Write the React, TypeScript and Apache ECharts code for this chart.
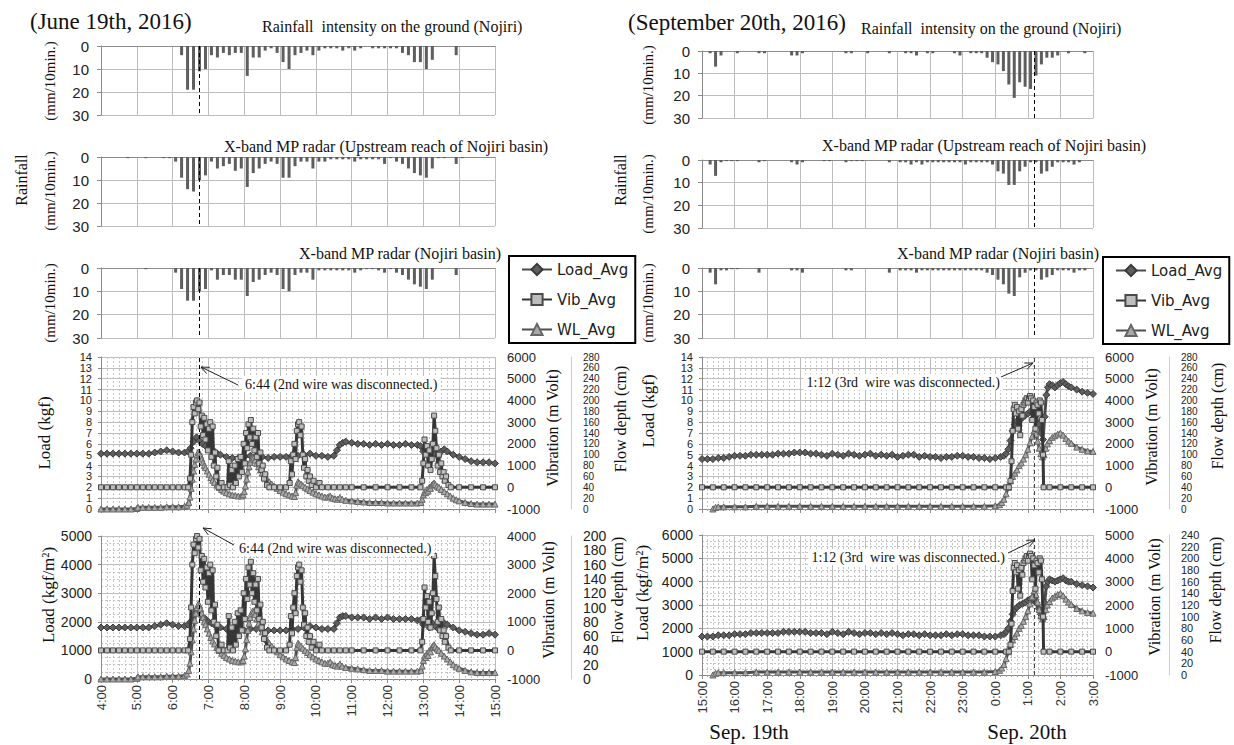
import React, { useEffect, useRef } from "react";
import * as echarts from "echarts";

// ---------- tick labels ----------
const LEFT_HOURS = ["4:00", "5:00", "6:00", "7:00", "8:00", "9:00", "10:00", "11:00", "12:00", "13:00", "14:00", "15:00"];
const RIGHT_HOURS = ["15:00", "16:00", "17:00", "18:00", "19:00", "20:00", "21:00", "22:00", "23:00", "0:00", "1:00", "2:00", "3:00"];
const LEFT_EVENT_MIN = 164; // 6:44
const RIGHT_EVENT_MIN = 612; // 1:12 (next day)

// ---------- rainfall, mm/10min, one value per 10 minutes ----------
// June 19th, 4:00-15:00 (66 slots)
const L_RAIN_GROUND = [0, 0, 0, 0, 0, 0, 0, 0, 0, 0, 0, 0, 0, 4, 19, 19, 11, 10, 4, 5, 3, 4, 3, 3, 13, 5, 5, 2, 1, 3, 7, 10, 4, 3, 2, 4, 2, 1, 1, 1, 2, 1, 2, 1, 0, 1, 1, 1, 1, 1, 3, 4, 7, 7, 10, 6, 0, 0, 0, 4, 0, 0, 0, 0, 0, 0];
const L_RAIN_UPSTREAM = [0, 0, 0, 0, 0.5, 0, 0, 0.5, 0, 0, 0.5, 0.5, 2, 9, 14, 15, 10, 8, 2, 5, 4, 3, 6, 5, 13, 7, 5, 3, 2, 3, 9, 9, 4, 2, 2, 5, 2, 2, 1, 1, 1, 1, 2, 1, 1, 1, 1, 3, 0.5, 2, 3, 5, 7, 8, 9, 5, 0.5, 0.5, 0, 3, 0.5, 0, 0, 0, 0, 0];
const L_RAIN_NOJIRI = [0, 0, 0, 0, 0, 0, 0, 0.5, 0, 0, 0, 0, 2, 9, 14, 14, 10, 9, 1, 5, 3, 3, 5, 5, 12, 6, 5, 3, 2, 3, 9, 10, 3, 2, 2, 5, 1, 1, 1, 1, 1, 1, 2, 1, 0.5, 0.5, 1, 2, 0.5, 2, 3, 5, 7, 8, 9, 5, 0, 0, 0, 3, 0, 0, 0, 0, 0, 0];
// Sep 19th 15:00 - Sep 20th 3:00 (72 slots)
const R_RAIN_GROUND = [0, 1, 7, 2, 0, 0, 1, 0, 0, 0, 1, 1, 0, 0, 0, 0, 2, 2, 1, 0, 0, 0, 0, 0, 0, 0, 1, 1, 0, 0, 1, 0, 0, 0, 1, 0, 0, 1, 1, 2, 0, 1, 1, 0, 0, 0, 1, 2, 0, 1, 1, 1, 3, 5, 6, 9, 15, 21, 14, 16, 17, 11, 6, 3, 3, 2, 0, 1, 0, 0, 1, 0];
const R_RAIN_UPSTREAM = [0, 2, 7, 1, 0.5, 0.5, 0.5, 0, 0, 0, 1, 0.5, 0, 0, 0, 0, 1, 2, 1, 0, 0, 0, 0.5, 0.5, 0, 0, 1, 0.5, 0.5, 0.5, 0, 0, 0, 0, 1, 0, 1, 1, 2, 1, 2, 1, 1, 1, 1, 1, 1, 1, 2, 1, 1, 1, 1, 2, 5, 6, 11, 11, 5, 3, 1, 1, 6, 5, 3, 1, 1, 1, 2, 1, 0, 0];
const R_RAIN_NOJIRI = [0, 2, 7, 1, 1, 0.5, 0.5, 0, 0, 0, 2, 0, 0, 0, 0, 0, 1, 1, 2, 0, 0, 0, 0, 0, 0, 0, 1, 1, 0, 0, 0, 0, 0, 0, 2, 0, 1, 1, 1, 2, 1, 1, 1, 1, 1, 1, 1, 1, 1, 1, 1, 1, 2, 3, 5, 7, 11, 12, 4, 2, 1, 1, 5, 4, 3, 1, 1, 1, 2, 1, 1, 0];

// ---------- sensor records [minutes from start, value] ----------
// June 19th (0 = 4:00)
const L_LOAD_KGF = [[0, 5.1], [10, 5.1], [20, 5.1], [30, 5.1], [40, 5.1], [50, 5.1], [60, 5.1], [70, 5.1], [80, 5.1], [90, 5.2], [100, 5.3], [110, 5.4], [120, 5.3], [130, 5.2], [140, 5.2], [146, 5.3], [150, 5.6], [155, 6.2], [160, 6.6], [165, 6.3], [170, 6.0], [175, 5.8], [180, 5.6], [185, 5.4], [190, 5.3], [195, 5.1], [200, 5.0], [210, 4.8], [220, 4.7], [230, 4.7], [240, 4.8], [250, 4.9], [260, 4.9], [270, 4.8], [280, 4.7], [290, 4.8], [300, 4.8], [310, 4.8], [320, 4.9], [330, 4.9], [340, 5.0], [350, 5.1], [360, 4.9], [370, 4.9], [380, 4.8], [390, 4.9], [395, 5.4], [400, 5.9], [405, 6.1], [410, 6.2], [420, 6.1], [430, 6.0], [440, 6.0], [450, 5.9], [460, 6.0], [470, 5.9], [480, 6.0], [490, 5.9], [500, 5.9], [510, 6.0], [520, 5.9], [530, 5.9], [535, 5.8], [540, 5.3], [545, 5.6], [550, 5.0], [555, 5.4], [560, 5.1], [565, 4.9], [570, 5.3], [575, 5.5], [580, 5.3], [590, 5.0], [600, 4.8], [610, 4.6], [620, 4.4], [630, 4.3], [640, 4.3], [650, 4.3], [660, 4.2]];
const L_LOAD_M2 = [[0, 1800], [10, 1800], [20, 1800], [30, 1800], [40, 1800], [50, 1800], [60, 1800], [70, 1800], [80, 1800], [90, 1850], [100, 1900], [110, 1950], [120, 1900], [130, 1850], [140, 1850], [146, 1900], [150, 2000], [155, 2250], [160, 2400], [165, 2300], [170, 2150], [175, 2100], [180, 2000], [185, 1950], [190, 1900], [195, 1850], [200, 1800], [210, 1750], [220, 1700], [230, 1700], [240, 1700], [250, 1750], [260, 1750], [270, 1700], [280, 1700], [290, 1700], [300, 1700], [310, 1700], [320, 1750], [330, 1750], [340, 1800], [350, 1850], [360, 1800], [370, 1750], [380, 1750], [390, 1750], [395, 1950], [400, 2150], [405, 2200], [410, 2200], [420, 2150], [430, 2150], [440, 2150], [450, 2100], [460, 2150], [470, 2100], [480, 2150], [490, 2100], [500, 2100], [510, 2100], [520, 2100], [530, 2050], [535, 2050], [540, 1900], [545, 2000], [550, 1800], [555, 1950], [560, 1850], [565, 1750], [570, 1900], [575, 1950], [580, 1900], [590, 1800], [600, 1700], [610, 1650], [620, 1600], [630, 1550], [640, 1550], [650, 1600], [660, 1550]];
const L_VIB = [[0, 0], [10, 0], [20, 0], [30, 0], [40, 0], [50, 0], [60, 0], [70, 0], [80, 0], [90, 0], [100, 0], [110, 0], [120, 0], [130, 0], [140, 0], [146, 0], [149, 400], [151, 1500], [153, 3000], [155, 3700], [157, 3400], [159, 3900], [161, 4000], [163, 3600], [165, 3900], [167, 2800], [169, 3300], [171, 2400], [173, 3200], [175, 2200], [177, 2900], [179, 1700], [181, 2700], [183, 3000], [185, 1400], [187, 2800], [189, 1000], [191, 1600], [193, 500], [195, 900], [197, 0], [202, 200], [206, 0], [212, 0], [214, 1200], [216, 100], [219, 800], [221, 0], [224, 1000], [226, 200], [229, 1300], [231, 500], [234, 1400], [236, 700], [239, 2000], [241, 1100], [243, 2500], [245, 1800], [247, 2900], [249, 2300], [251, 3100], [253, 2000], [255, 2700], [257, 1700], [259, 2300], [261, 1400], [263, 2500], [265, 1100], [267, 1600], [269, 800], [271, 1000], [273, 400], [275, 600], [278, 100], [282, 0], [290, 0], [300, 0], [310, 0], [316, 200], [318, 1200], [320, 600], [322, 1500], [324, 2000], [326, 1300], [328, 2600], [330, 2900], [332, 3000], [334, 2400], [336, 2800], [338, 1500], [340, 900], [342, 1300], [344, 500], [346, 800], [348, 300], [350, 500], [353, 100], [356, 300], [360, 0], [366, 200], [370, 0], [380, 0], [390, 0], [400, 0], [410, 0], [420, 0], [440, 0], [460, 0], [480, 0], [500, 0], [520, 0], [535, 0], [538, 300], [540, 1100], [542, 2200], [544, 1500], [546, 1900], [548, 1000], [550, 1700], [552, 800], [554, 1300], [556, 2000], [558, 3300], [560, 2600], [562, 1800], [564, 1000], [566, 1500], [568, 700], [570, 1100], [572, 500], [574, 700], [576, 300], [578, 500], [582, 100], [586, 0], [600, 0], [620, 0], [640, 0], [660, 0]];
const L_WL = [[0, 0], [10, 0], [20, 0], [30, 0], [40, 0], [50, 0], [60, 1], [62, 3], [70, 3], [80, 3], [90, 3], [100, 3], [110, 4], [120, 4], [130, 4], [140, 5], [144, 7], [147, 12], [149, 22], [151, 38], [153, 55], [155, 70], [157, 82], [159, 92], [161, 100], [163, 105], [165, 103], [167, 98], [169, 92], [171, 86], [173, 80], [175, 76], [178, 70], [181, 64], [184, 58], [187, 53], [190, 49], [194, 44], [198, 40], [202, 36], [206, 33], [210, 30], [215, 28], [220, 26], [225, 25], [230, 24], [235, 24], [238, 26], [240, 32], [242, 42], [244, 55], [246, 68], [248, 78], [250, 86], [252, 92], [254, 95], [256, 94], [258, 90], [261, 84], [264, 78], [267, 72], [270, 66], [274, 60], [278, 55], [282, 50], [286, 46], [290, 42], [295, 38], [300, 34], [305, 31], [310, 28], [315, 26], [320, 24], [324, 23], [326, 30], [328, 44], [330, 50], [332, 48], [335, 46], [338, 43], [342, 40], [346, 37], [350, 34], [355, 31], [360, 28], [365, 26], [370, 24], [375, 22], [380, 22], [384, 24], [388, 20], [392, 19], [396, 18], [400, 21], [404, 18], [410, 16], [420, 15], [430, 14], [440, 13], [450, 12], [460, 12], [470, 12], [480, 11], [490, 11], [500, 11], [510, 11], [520, 11], [530, 11], [536, 12], [538, 18], [540, 26], [542, 32], [544, 30], [546, 36], [548, 33], [550, 40], [552, 38], [554, 44], [556, 46], [558, 48], [560, 45], [563, 42], [566, 40], [570, 36], [575, 32], [580, 28], [585, 24], [590, 20], [595, 17], [600, 15], [610, 12], [620, 10], [630, 9], [640, 9], [650, 9], [660, 9]];

// Sep 19th-20th (0 = 15:00)
const R_LOAD_KGF = [[0, 4.6], [10, 4.6], [20, 4.6], [30, 4.7], [40, 4.7], [50, 4.8], [60, 4.9], [70, 4.9], [80, 4.9], [90, 5.0], [100, 5.0], [110, 5.0], [120, 5.0], [130, 5.0], [140, 5.1], [150, 5.1], [160, 5.1], [170, 5.2], [180, 5.2], [190, 5.2], [200, 5.1], [210, 5.1], [220, 5.0], [230, 4.9], [240, 5.1], [250, 5.0], [260, 4.9], [270, 5.1], [280, 5.0], [290, 4.9], [300, 5.0], [310, 5.1], [320, 4.9], [330, 5.0], [340, 4.9], [350, 5.0], [360, 4.8], [370, 4.9], [380, 5.0], [390, 5.0], [400, 4.8], [410, 4.9], [420, 4.8], [430, 4.8], [440, 4.7], [450, 4.8], [460, 4.8], [470, 4.9], [480, 4.9], [490, 4.8], [500, 4.8], [510, 4.7], [520, 4.7], [530, 4.6], [540, 4.7], [550, 4.8], [556, 4.9], [560, 5.1], [564, 5.5], [568, 6.3], [572, 7.2], [576, 7.8], [580, 8.1], [585, 8.3], [590, 8.4], [595, 8.6], [600, 8.8], [605, 9.0], [610, 8.9], [615, 8.6], [620, 7.8], [624, 7.0], [628, 6.4], [631, 8.5], [634, 10.5], [637, 11.2], [640, 11.5], [645, 11.4], [650, 11.2], [655, 11.4], [660, 11.6], [665, 11.7], [670, 11.5], [675, 11.3], [680, 11.2], [690, 11.0], [700, 10.8], [710, 10.7], [720, 10.6]];
const R_LOAD_M2 = [[0, 1650], [10, 1650], [20, 1650], [30, 1700], [40, 1700], [50, 1700], [60, 1750], [70, 1750], [80, 1750], [90, 1800], [100, 1800], [110, 1800], [120, 1800], [130, 1800], [140, 1800], [150, 1850], [160, 1850], [170, 1850], [180, 1850], [190, 1850], [200, 1800], [210, 1800], [220, 1800], [230, 1750], [240, 1850], [250, 1800], [260, 1750], [270, 1850], [280, 1800], [290, 1750], [300, 1800], [310, 1800], [320, 1750], [330, 1800], [340, 1750], [350, 1800], [360, 1750], [370, 1700], [380, 1750], [390, 1750], [400, 1700], [410, 1750], [420, 1700], [430, 1700], [440, 1700], [450, 1750], [460, 1700], [470, 1750], [480, 1750], [490, 1700], [500, 1700], [510, 1700], [520, 1650], [530, 1650], [540, 1650], [550, 1700], [556, 1750], [560, 1850], [564, 2000], [568, 2300], [572, 2600], [576, 2800], [580, 2900], [585, 3000], [590, 3050], [595, 3100], [600, 3200], [605, 3250], [610, 3200], [615, 3100], [620, 2850], [624, 2600], [628, 2400], [631, 3100], [634, 3800], [637, 4000], [640, 4100], [645, 4050], [650, 4000], [655, 4050], [660, 4100], [665, 4150], [670, 4050], [675, 4000], [680, 4000], [690, 3900], [700, 3850], [710, 3800], [720, 3750]];
const R_VIB = [[0, 0], [20, 0], [40, 0], [60, 0], [80, 0], [100, 0], [120, 0], [140, 0], [160, 0], [180, 0], [200, 0], [220, 0], [240, 0], [260, 0], [280, 0], [300, 0], [320, 0], [340, 0], [360, 0], [380, 0], [400, 0], [420, 0], [440, 0], [460, 0], [480, 0], [500, 0], [520, 0], [540, 0], [560, 0], [565, 0], [568, 300], [570, 1200], [572, 2600], [574, 3600], [576, 3800], [578, 3400], [580, 3700], [582, 2700], [584, 3500], [586, 2400], [588, 3600], [590, 3300], [592, 3800], [594, 3900], [596, 4000], [598, 4100], [600, 3900], [602, 4100], [604, 4200], [606, 4100], [608, 3100], [610, 4000], [612, 3700], [614, 2700], [616, 3900], [618, 3800], [620, 3400], [622, 4000], [624, 3900], [626, 3100], [628, 1500], [629, 0], [640, 0], [660, 0], [680, 0], [700, 0], [720, 0]];
const R_WL = [[20, 0], [25, 3], [30, 4], [40, 4], [60, 4], [80, 4], [100, 5], [120, 5], [140, 5], [160, 5], [180, 5], [200, 5], [220, 5], [240, 5], [260, 5], [280, 5], [300, 5], [320, 5], [340, 5], [360, 5], [380, 5], [400, 5], [420, 5], [440, 5], [460, 5], [480, 5], [500, 5], [520, 5], [540, 6], [548, 8], [552, 12], [556, 18], [560, 28], [564, 40], [568, 52], [572, 60], [576, 66], [580, 72], [584, 80], [588, 85], [592, 92], [596, 100], [600, 110], [604, 122], [608, 134], [612, 145], [615, 138], [618, 125], [621, 112], [624, 102], [627, 96], [630, 100], [633, 112], [636, 120], [640, 126], [645, 132], [650, 135], [655, 138], [660, 140], [665, 136], [670, 130], [675, 125], [680, 121], [690, 114], [700, 110], [710, 107], [720, 106]];

const SERIES_NAMES = ["Load_Avg", "Vib_Avg", "WL_Avg"];

// ---------- styling ----------
const SANS = "'Liberation Sans', Arial, sans-serif";
const SERIF = "'Liberation Serif', 'Times New Roman', serif";
const GRID_LINE = "#bdbdbd";
const plain = (v: number) => String(v);

const GRIDS = [
  { left: 101, top: 46, width: 394, height: 69 }, // 0 L1
  { left: 101, top: 157, width: 394, height: 69 }, // 1 L2
  { left: 101, top: 268, width: 394, height: 70 }, // 2 L3
  { left: 101, top: 357, width: 394, height: 152 }, // 3 L4
  { left: 101, top: 536, width: 394, height: 143 }, // 4 L5
  { left: 702, top: 51, width: 391, height: 67 }, // 5 R1
  { left: 702, top: 160, width: 391, height: 68 }, // 6 R2
  { left: 702, top: 268, width: 391, height: 70 }, // 7 R3
  { left: 702, top: 357, width: 391, height: 152 }, // 8 R4
  { left: 702, top: 535, width: 391, height: 140 }, // 9 R5
];

function dashLine(m: number, color = "#000") {
  return {
    silent: true,
    symbol: ["none", "none"],
    label: { show: false },
    lineStyle: { type: [4, 3], color, width: 1 },
    data: [{ xAxis: m }],
  };
}

function txt(x: number, y: number, text: string, size: number, opts: any = {}) {
  return {
    type: "text",
    x,
    y,
    rotation: opts.rot || 0,
    z: 100,
    style: {
      text,
      fill: "#111",
      font: `${size}px ${opts.family || SERIF}`,
      textAlign: opts.align || "center",
      textVerticalAlign: "middle",
      backgroundColor: opts.bg,
      padding: opts.bg ? [1, 3] : undefined,
    },
  };
}

function arrow(x1: number, y1: number, x2: number, y2: number) {
  const dx = x2 - x1;
  const dy = y2 - y1;
  const len = Math.sqrt(dx * dx + dy * dy);
  const ux = dx / len;
  const uy = dy / len;
  const nx = -uy;
  const ny = ux;
  const hl = 8;
  const hw = 3.5;
  return [
    { type: "line", z: 101, shape: { x1, y1, x2, y2 }, style: { stroke: "#222", lineWidth: 1 } },
    {
      type: "polyline",
      z: 101,
      shape: {
        points: [
          [x2 - hl * ux + hw * nx, y2 - hl * uy + hw * ny],
          [x2, y2],
          [x2 - hl * ux - hw * nx, y2 - hl * uy - hw * ny],
        ],
      },
      style: { stroke: "#222", lineWidth: 1, fill: "none" },
    },
  ];
}

function buildOption() {
  const xAxis: any[] = [];
  const yAxis: any[] = [];
  const series: any[] = [];

  const rainPanel = (gi: number, vals: number[], max: number, ev: number) => {
    xAxis.push({
      gridIndex: gi,
      type: "value",
      min: 0,
      max,
      interval: 60,
      position: "top",
      axisLine: { show: true, onZero: false, lineStyle: { color: "#8c8c8c" } },
      axisTick: { show: false },
      axisLabel: { show: false },
      splitLine: { show: true, lineStyle: { color: GRID_LINE } },
    });
    const yi = yAxis.length;
    yAxis.push({
      gridIndex: gi,
      type: "value",
      min: 0,
      max: 30,
      interval: 10,
      inverse: true,
      axisLine: { show: true, lineStyle: { color: "#8c8c8c" } },
      axisTick: { show: true, length: 4, lineStyle: { color: "#8c8c8c" } },
      axisLabel: { fontSize: 15, fontFamily: SANS, color: "#222", margin: 12 },
      splitLine: { show: true, lineStyle: { color: GRID_LINE } },
    });
    series.push({
      type: "bar",
      xAxisIndex: gi,
      yAxisIndex: yi,
      silent: true,
      barWidth: 3,
      itemStyle: { color: "#5e5e5e" },
      data: vals.map((v, i) => [i * 10 + 5, v]),
      markLine: dashLine(ev),
    });
  };

  const tsPanel = (
    gi: number,
    max: number,
    hours: string[],
    showLabels: boolean,
    load: number[][],
    loadMax: number,
    loadInt: number,
    loadFont: number,
    loadMinor: boolean,
    vibMax: number,
    flowMax: number,
    flowFont: number,
    ev: number
  ) => {
    xAxis.push({
      gridIndex: gi,
      type: "value",
      min: 0,
      max,
      interval: 60,
      axisLine: { show: true, onZero: false, lineStyle: { color: "#8c8c8c" } },
      axisTick: { show: true, length: 4, lineStyle: { color: "#8c8c8c" } },
      minorTick: { show: true, splitNumber: 6, length: 2, lineStyle: { color: "#9a9a9a" } },
      splitLine: { show: true, lineStyle: { color: GRID_LINE } },
      minorSplitLine: { show: true, lineStyle: { color: "#c4c4c4", type: [2, 2] } },
      axisLabel: showLabels
        ? {
            show: true,
            rotate: 90,
            fontSize: 13,
            fontFamily: SANS,
            color: "#333",
            margin: 6,
            formatter: (v: number) => hours[Math.round(v / 60)] ?? "",
          }
        : { show: false },
    });
    const yLoad = yAxis.length;
    yAxis.push({
      gridIndex: gi,
      type: "value",
      min: 0,
      max: loadMax,
      interval: loadInt,
      position: "left",
      axisLine: { show: true, lineStyle: { color: "#8c8c8c" } },
      axisTick: { show: true, length: 3, lineStyle: { color: "#8c8c8c" } },
      axisLabel: { fontSize: loadFont, fontFamily: SANS, color: "#222", margin: 9, formatter: plain },
      splitLine: { show: true, lineStyle: { color: GRID_LINE } },
      minorTick: { show: false, splitNumber: 4 },
      minorSplitLine: { show: loadMinor, lineStyle: { color: "#c4c4c4", type: [2, 2] } },
    });
    const yVib = yAxis.length;
    yAxis.push({
      gridIndex: gi,
      type: "value",
      min: -1000,
      max: vibMax,
      interval: 1000,
      position: "right",
      axisLine: { show: false },
      axisTick: { show: false },
      axisLabel: { fontSize: 13, fontFamily: SANS, color: "#222", margin: 12, formatter: plain },
      splitLine: { show: false },
    });
    const yFlow = yAxis.length;
    yAxis.push({
      gridIndex: gi,
      type: "value",
      min: 0,
      max: flowMax,
      interval: 20,
      position: "right",
      offset: 76,
      axisLine: { show: true, lineStyle: { color: "#cccccc" } },
      axisTick: { show: false },
      axisLabel: {
        fontSize: flowFont,
        lineHeight: Math.min(flowFont, 10),
        fontFamily: SANS,
        color: "#222",
        margin: 12,
        formatter: plain,
        showMinLabel: true,
        showMaxLabel: true,
        hideOverlap: false,
      },
      splitLine: { show: false },
    });
    const vib = gi < 5 ? L_VIB : R_VIB;
    const wl = gi < 5 ? L_WL : R_WL;
    series.push({
      type: "line",
      name: SERIES_NAMES[0],
      xAxisIndex: gi,
      yAxisIndex: yLoad,
      data: load,
      symbol: "diamond",
      symbolSize: 7,
      z: 3,
      lineStyle: { color: "#4a4a4a", width: 3 },
      itemStyle: { color: "#5e5e5e", borderColor: "#3a3a3a", borderWidth: 1 },
      markLine: dashLine(ev, gi < 5 ? "#000" : "#444"),
    });
    series.push({
      type: "line",
      name: SERIES_NAMES[1],
      xAxisIndex: gi,
      yAxisIndex: yVib,
      data: vib,
      symbol: "rect",
      symbolSize: 5,
      z: 5,
      lineStyle: { color: "#363636", width: 3 },
      itemStyle: { color: "#bdbdbd", borderColor: "#4a4a4a", borderWidth: 1 },
    });
    series.push({
      type: "line",
      name: SERIES_NAMES[2],
      xAxisIndex: gi,
      yAxisIndex: yFlow,
      data: wl,
      symbol: "triangle",
      symbolSize: 6,
      z: 4,
      lineStyle: { color: "#4e4e4e", width: 3 },
      itemStyle: { color: "#a9a9a9", borderColor: "#666666", borderWidth: 1 },
    });
  };

  rainPanel(0, L_RAIN_GROUND, 660, LEFT_EVENT_MIN);
  rainPanel(1, L_RAIN_UPSTREAM, 660, LEFT_EVENT_MIN);
  rainPanel(2, L_RAIN_NOJIRI, 660, LEFT_EVENT_MIN);
  tsPanel(3, 660, LEFT_HOURS, false, L_LOAD_KGF, 14, 1, 11, false, 6000, 280, 10, LEFT_EVENT_MIN);
  tsPanel(4, 660, LEFT_HOURS, true, L_LOAD_M2, 5000, 1000, 14, true, 4000, 200, 14, LEFT_EVENT_MIN);
  rainPanel(5, R_RAIN_GROUND, 720, RIGHT_EVENT_MIN);
  rainPanel(6, R_RAIN_UPSTREAM, 720, RIGHT_EVENT_MIN);
  rainPanel(7, R_RAIN_NOJIRI, 720, RIGHT_EVENT_MIN);
  tsPanel(8, 720, RIGHT_HOURS, false, R_LOAD_KGF, 14, 1, 11, false, 6000, 280, 10, RIGHT_EVENT_MIN);
  tsPanel(9, 720, RIGHT_HOURS, true, R_LOAD_M2, 6000, 1000, 14, true, 5000, 240, 11, RIGHT_EVENT_MIN);

  const legendBase = {
    data: SERIES_NAMES,
    orient: "vertical",
    itemWidth: 30,
    itemHeight: 14,
    itemGap: 15,
    padding: [6, 7, 6, 12],
    borderColor: "#000",
    borderWidth: 2,
    backgroundColor: "#fff",
    selectedMode: false,
    textStyle: { fontFamily: "'DejaVu Sans', Verdana, sans-serif", fontSize: 15, color: "#222" },
  };

  const graphic: any[] = [
    txt(30, 21, "(June 19th, 2016)", 23, { align: "left" }),
    txt(262, 26, "Rainfall  intensity on the ground (Nojiri)", 16, { align: "left" }),
    txt(628, 22, "(September 20th, 2016)", 23, { align: "left" }),
    txt(861, 28, "Rainfall  intensity on the ground (Nojiri)", 16, { align: "left" }),
    txt(224, 146, "X-band MP radar (Upstream reach of Nojiri basin)", 16, { align: "left" }),
    txt(822, 145, "X-band MP radar (Upstream reach of Nojiri basin)", 16, { align: "left" }),
    txt(299, 253, "X-band MP radar (Nojiri basin)", 16, { align: "left" }),
    txt(897, 253, "X-band MP radar (Nojiri basin)", 16, { align: "left" }),
    txt(50, 81, "(mm/10min.)", 15, { rot: Math.PI / 2 }),
    txt(50, 191, "(mm/10min.)", 15, { rot: Math.PI / 2 }),
    txt(50, 303, "(mm/10min.)", 15, { rot: Math.PI / 2 }),
    txt(648, 85, "(mm/10min.)", 15, { rot: Math.PI / 2 }),
    txt(648, 194, "(mm/10min.)", 15, { rot: Math.PI / 2 }),
    txt(648, 303, "(mm/10min.)", 15, { rot: Math.PI / 2 }),
    txt(21, 180, "Rainfall", 16, { rot: Math.PI / 2 }),
    txt(620, 180, "Rainfall", 16, { rot: Math.PI / 2 }),
    txt(44, 433, "Load (kgf)", 17, { rot: Math.PI / 2 }),
    txt(552, 428, "Vibration (m Volt)", 16, { rot: Math.PI / 2 }),
    txt(620, 419, "Flow depth (cm)", 16, { rot: Math.PI / 2 }),
    txt(648, 411, "Load (kgf)", 17, { rot: Math.PI / 2 }),
    txt(1151, 427, "Vibration (m Volt)", 16, { rot: Math.PI / 2 }),
    txt(1217, 416, "Flow depth (cm)", 16, { rot: Math.PI / 2 }),
    txt(48, 595, "Load (kgf/m²)", 17, { rot: Math.PI / 2 }),
    txt(548, 600, "Vibration (m Volt)", 16, { rot: Math.PI / 2 }),
    txt(617, 590, "Flow depth (cm)", 16, { rot: Math.PI / 2 }),
    txt(642, 593, "Load (kgf/m²)", 17, { rot: Math.PI / 2 }),
    txt(1154, 597, "Vibration (m Volt)", 16, { rot: Math.PI / 2 }),
    txt(1215, 590, "Flow depth (cm)", 16, { rot: Math.PI / 2 }),
    txt(749, 732, "Sep. 19th", 21),
    txt(1027, 732, "Sep. 20th", 21),
    txt(242, 384, "6:44 (2nd wire was disconnected.)", 14, { align: "left", bg: "#fff" }),
    txt(236, 548, "6:44 (2nd wire was disconnected.)", 14, { align: "left", bg: "#fff" }),
    txt(1003, 382, "1:12 (3rd  wire was disconnected.)", 14, { align: "right", bg: "#fff" }),
    txt(1008, 557, "1:12 (3rd  wire was disconnected.)", 14, { align: "right", bg: "#fff" }),
    ...arrow(238, 385, 201, 367),
    ...arrow(234, 545, 203, 528),
    ...arrow(1001, 377, 1033, 363),
    ...arrow(1008, 553, 1035, 540),
  ];

  return {
    animation: false,
    backgroundColor: "#fff",
    grid: GRIDS.map((g) => ({ ...g, containLabel: false })),
    xAxis,
    yAxis,
    series,
    legend: [
      { ...legendBase, left: 509, top: 256 },
      { ...legendBase, left: 1103, top: 257 },
    ],
    graphic,
  };
}

export default function App() {
  const ref = useRef<HTMLDivElement>(null);
  useEffect(() => {
    if (!ref.current) return;
    const chart = echarts.init(ref.current, null, { renderer: "svg" });
    chart.setOption(buildOption() as any);
    return () => chart.dispose();
  }, []);
  return (
    <div
      ref={ref}
      style={{ position: "fixed", left: 0, top: 0, width: 1234, height: 745, background: "#fff" }}
    />
  );
}
